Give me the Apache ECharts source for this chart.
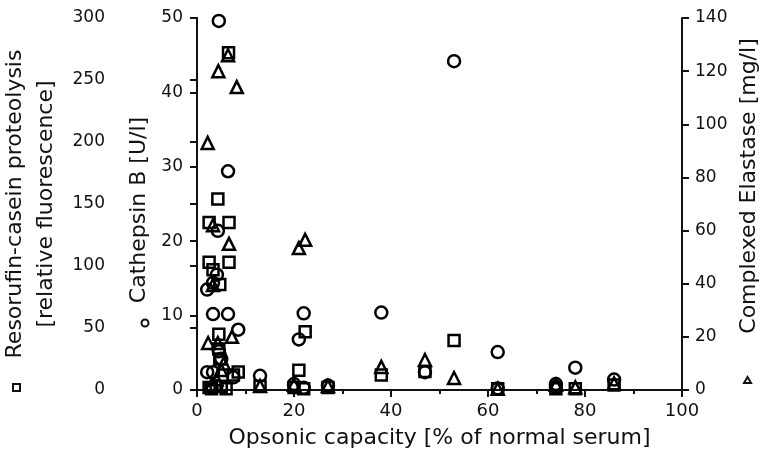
<!DOCTYPE html>
<html>
<head>
<meta charset="utf-8">
<script src="https://cdn.jsdelivr.net/npm/echarts@6/dist/echarts.min.js"></script>
<style>
  html, body { margin: 0; padding: 0; background: #fff; }
  #chart { width: 760px; height: 472px; }
</style>
</head>
<body>
<div id="chart"></div>
<script>
// opsonic capacity [% of normal serum] vs. three markers
const cathepsinB = [
  [4.5, 49.6], [53, 44.2], [6.4, 29.4], [4.3, 21.4], [4.1, 15.5], [3.3, 14.4],
  [2.1, 13.5], [3.3, 10.2], [6.4, 10.2], [8.5, 8.1], [22, 10.3], [21, 6.8],
  [38, 10.4], [62, 5.1], [78, 3.0], [13, 1.9], [2.1, 2.4], [3.3, 2.4],
  [7.5, 1.7], [47, 2.4], [74, 0.8], [86, 1.4], [27, 0.6], [20, 0.8],
  [4.5, 5.2], [5, 4.2], [4, 0.5], [3, 0.3], [22, 0.3], [62, 0.2], [74, 0.4]
]
const resorufin = [
  [6.5, 272], [4.3, 154], [2.5, 135], [6.6, 135], [2.5, 103], [6.6, 103],
  [3.3, 97], [4.7, 85], [4.5, 45], [4.5, 33], [4.7, 25], [7.5, 12],
  [8.5, 14.5], [22.3, 47], [21, 16], [53, 40], [38, 12], [47, 15],
  [13, 3], [20, 2], [22, 1], [27, 2], [62, 1], [74, 1], [78, 1], [86, 4],
  [3, 1], [2.5, 2], [5, 3], [6, 1]
]
const elastase = [
  [6.4, 126], [4.4, 120], [8.2, 114], [2.2, 93], [22.3, 56.5], [21, 53.4],
  [3.3, 62], [6.6, 55], [3.3, 39.5], [2.3, 17.7], [4.3, 17.7], [7.2, 20],
  [5, 7.5], [38, 8.7], [47, 11.3], [53, 4.5], [13, 1.5], [20, 2],
  [27, 1.5], [62, 0.5], [74, 2], [78, 1], [86, 2.5], [3, 2], [4, 4], [5.5, 10]
]

const font = 'DejaVu Sans'
const ink = '#111'

const axisCommon = {
  axisLine: { show: true, lineStyle: { color: ink, width: 2 } },
  axisTick: { show: true, inside: false, length: 7, lineStyle: { color: ink, width: 2 } },
  axisLabel: { color: ink, fontFamily: font, fontSize: 17 },
  splitLine: { show: false },
  nameTextStyle: { color: ink, fontFamily: font, fontSize: 22 }
}

// open symbols, full black outline (scatter defaults to 0.8 opacity)
const markStyle = { color: 'rgba(0,0,0,0)', borderColor: '#000', borderWidth: 2.5, opacity: 1 }

const chart = echarts.init(document.getElementById('chart'))
chart.setOption({
  backgroundColor: '#fff',
  animation: false,
  grid: { left: 197, right: 78, top: 18, bottom: 82, outerBoundsMode: 'none' },
  xAxis: {
    ...axisCommon,
    type: 'value',
    min: 0, max: 100, interval: 20,
    minorTick: { show: true, splitNumber: 2, length: 4, lineStyle: { color: ink, width: 2 } },
    axisLabel: { ...axisCommon.axisLabel, fontSize: 18, margin: 12 },
    name: 'Opsonic capacity [% of normal serum]',
    nameLocation: 'middle',
    nameGap: 37
  },
  yAxis: [
    {
      ...axisCommon,
      type: 'value', position: 'left', offset: 74,
      min: 0, max: 300, interval: 50,
      axisLabel: { ...axisCommon.axisLabel, margin: 18 },
      name: 'Resorufin-casein proteolysis\n[relative fluorescence]',
      nameLocation: 'middle', nameRotate: 90, nameGap: 55,
      nameTextStyle: { ...axisCommon.nameTextStyle, lineHeight: 31 }
    },
    {
      ...axisCommon,
      type: 'value', position: 'left', offset: 0,
      min: 0, max: 50, interval: 10,
      axisLabel: { ...axisCommon.axisLabel, margin: 14 },
      name: 'Cathepsin B [U/l]',
      nameLocation: 'middle', nameRotate: 90, nameGap: 40,
      nameTextStyle: { ...axisCommon.nameTextStyle, padding: [0, 12, 0, 0] }
    },
    {
      ...axisCommon,
      type: 'value', position: 'right',
      min: 0, max: 140, interval: 20,
      axisLabel: { ...axisCommon.axisLabel, margin: 13 },
      name: 'Complexed Elastase [mg/l]',
      nameLocation: 'middle', nameRotate: 90, nameGap: 53,
      nameTextStyle: { ...axisCommon.nameTextStyle, padding: [0, 0, 0, 36] }
    }
  ],
  series: [
    {
      name: 'Resorufin', type: 'scatter', yAxisIndex: 0, data: resorufin,
      symbol: 'rect', symbolSize: 11, itemStyle: markStyle
    },
    {
      name: 'Cathepsin B', type: 'scatter', yAxisIndex: 1, data: cathepsinB,
      symbol: 'circle', symbolSize: 12, itemStyle: markStyle
    },
    {
      name: 'Elastase', type: 'scatter', yAxisIndex: 2, data: elastase,
      symbol: 'triangle', symbolSize: 12, itemStyle: markStyle
    }
  ],
  // legend symbols drawn next to the axis titles
  graphic: [
    { type: 'rect', shape: { x: 13, y: 384, width: 7, height: 7 }, style: { fill: 'none', stroke: ink, lineWidth: 2 } },
    { type: 'circle', shape: { cx: 145, cy: 323, r: 3.5 }, style: { fill: 'none', stroke: ink, lineWidth: 2 } },
    { type: 'polygon', shape: { points: [[744, 383], [751, 383], [747.5, 377]] }, style: { fill: 'none', stroke: ink, lineWidth: 2 } }
  ]
})
</script>
</body>
</html>
